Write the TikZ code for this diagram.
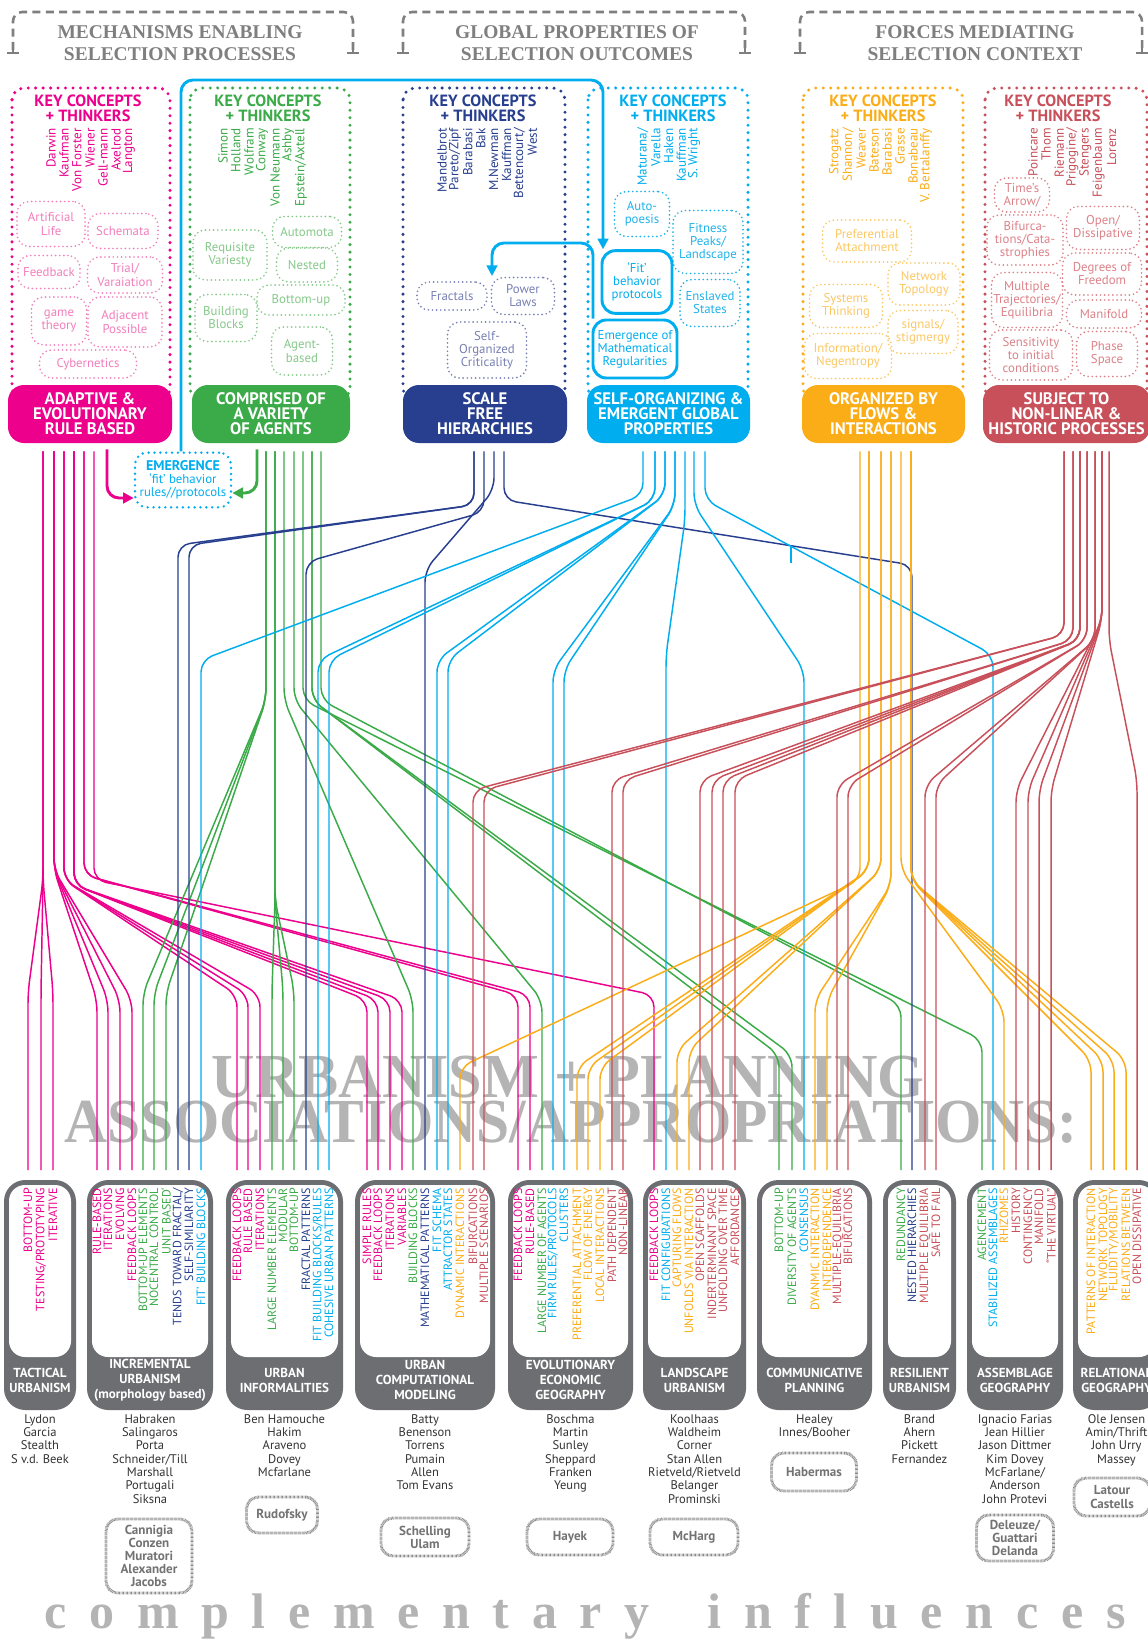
\documentclass[tikz,border=0pt]{standalone}
\usepackage{fontspec}
\setmainfont{PT Sans}
\newfontfamily\ser{Liberation Serif}
\usetikzlibrary{arrows.meta,calc}
\definecolor{cP}{HTML}{EC008C}
\definecolor{cG}{HTML}{3BAA48}
\definecolor{cN}{HTML}{273F8E}
\definecolor{cC}{HTML}{00AEEF}
\definecolor{cO}{HTML}{FBAD18}
\definecolor{cR}{HTML}{C8505A}
\definecolor{cGray}{HTML}{6D6E71}
\definecolor{cHead}{HTML}{7F7F7F}
\definecolor{cBig}{HTML}{B4B4B4}
\definecolor{lP}{HTML}{F27FBC}
\definecolor{lG}{HTML}{86C98A}
\definecolor{lN}{HTML}{7880B5}
\definecolor{lC}{HTML}{1FB3EC}
\definecolor{lO}{HTML}{FCC865}
\definecolor{lR}{HTML}{DC8289}
\newcommand\lspc{\kern17pt}
\newcommand\thk[5]{\foreach \n [count=\i from 0] in {#5}{\node[thinker,text=#1] (#2\i) at ({#3+\i*#4},128) {\n};}}
\newcommand\bl[1]{\foreach \x/\c/\t in {#1}{\node[blab,text=\c] (bl\x) at (\x,1188) {\t};}}
\newcommand\lnk[6]{\foreach \t in {#6}{\draw[conn,#1] (#2,0 |- #3.south) ++(0,8) -- (#2,#4) -- (\t,#5) -- (\t,0 |- lineend);}}
\newcommand\ubox[5]{%
 \fill[cGray,rounded corners=16pt] (#2,1180) rectangle (#3,1410);
 \fill[white,rounded corners=12pt] ({#2+5},1185) rectangle ({#3-5},1357);
 \node[uhead] (#1h) at ({(#2+#3)/2},1380) {#4};
 \node[unames,anchor=north] (#1n) at ({(#2+#3)/2},1414) {#5};}
\newcommand\comp[6]{\node[compbox,minimum width=#4*0.75pt,minimum height=#5*0.75pt] (#1) at (#2,#3) {#6};}
\newcommand\bb[7]{\node[bub=#1,minimum width=#5*0.75pt,minimum height=#6*0.75pt] (#2) at (#3,#4) {#7};}
\newcommand\hbrak[2]{%
 \draw[hdash,rounded corners=7pt] (#1,50) -- (#1,12) -- (#2,12) -- (#2,50);
 \draw[cHead,line width=1.9pt] ({#1-6},53) -- ({#1+6},53) ({#2-6},53) -- ({#2+6},53) (#1,47) -- (#1,53) (#2,47) -- (#2,53);}
\begin{document}
\begin{tikzpicture}[x=0.75pt,y=-0.75pt,
  thinker/.style={rotate=90,anchor=east,inner sep=0pt,font=\fontsize{9.8}{10}\selectfont},
  blab/.style={rotate=90,anchor=east,inner sep=0pt,font=\fontsize{9}{9}\selectfont},
  bub/.style={draw=#1,text=#1,line width=1.4pt,dash pattern=on 0pt off 3.1pt,line cap=round,rounded corners=9pt,align=center,inner sep=0pt,font=\fontsize{9.6}{9.8}\selectfont},
  fitbox/.style={draw=cC,text=cC,line width=2.2pt,rounded corners=10pt,align=center,inner sep=0pt,font=\fontsize{9.6}{9.8}\selectfont},
  bigdot/.style={draw=#1,line width=2.5pt,dash pattern=on 0pt off 5.6pt,line cap=round,rounded corners=9pt},
  catbox/.style={fill=#1,text=white,rounded corners=12pt,align=center,inner sep=0pt,minimum height=43.5pt,font=\bfseries\fontsize{12.5}{11.3}\selectfont},
  kc/.style={text=#1,align=center,inner sep=0pt,font=\bfseries\fontsize{12.2}{11.3}\selectfont},
  hdr/.style={text=cHead,align=center,inner sep=0pt,font=\ser\bfseries\fontsize{14.6}{16.5}\selectfont},
  hdash/.style={draw=cHead,line width=1.9pt,dash pattern=on 6pt off 4pt},
  conn/.style={line width=1.1pt,rounded corners=9pt},
  arr/.style={line width=2.2pt,rounded corners=9pt,-{Triangle[length=8pt,width=8pt]}},
  uhead/.style={text=white,align=center,inner sep=0pt,font=\bfseries\fontsize{9.8}{11.2}\selectfont},
  unames/.style={text=black!80,align=center,inner sep=0pt,font=\fontsize{9.4}{10}\selectfont},
  compbox/.style={draw=black!45,line width=2.2pt,dash pattern=on 0.5pt off 0.5pt,rounded corners=9pt,text=black!55,align=center,inner sep=0pt,font=\bfseries\fontsize{9.8}{9.8}\selectfont},
  bigtitle/.style={text=cBig,font=\ser\bfseries\fontsize{47}{47}\selectfont,anchor=base,inner sep=0pt},
]
\path[use as bounding box,fill=white] (0,0) rectangle (1148,1651);
\coordinate (lineend) at (0,1170);

% big titles
\node[bigtitle,xscale=0.96] (t1) at (568,1097) {URBANISM + PLANNING};
\node[bigtitle,xscale=0.95] (t2) at (571,1142) {ASSOCIATIONS/APPROPRIATIONS:};

% headers
\hbrak{13}{353}
\hbrak{403}{745}
\hbrak{800}{1142}
\node[hdr] (h1) at (180,43) {MECHANISMS ENABLING\\SELECTION PROCESSES};
\node[hdr] (h2) at (577,43) {GLOBAL PROPERTIES OF\\SELECTION OUTCOMES};
\node[hdr] (h3) at (975,43) {FORCES MEDIATING\\SELECTION CONTEXT};

% dotted boxes
\draw[bigdot=cP] (12,88) rectangle (170,400);
\draw[bigdot=cG] (190,88) rectangle (350,400);
\draw[bigdot=cN] (403,88) rectangle (565,400);
\draw[bigdot=cC] (588,88) rectangle (748,400);
\draw[bigdot=cO] (803,88) rectangle (963,400);
\draw[bigdot=cR] (985,88) rectangle (1147,400);

% key concepts
\node[kc=cP] (kcP) at (88,108) {KEY CONCEPTS\\+ THINKERS};
\node[kc=cG] (kcG) at (268,108) {KEY CONCEPTS\\+ THINKERS};
\node[kc=cN] (kcN) at (483,108) {KEY CONCEPTS\\+ THINKERS};
\node[kc=cC] (kcC) at (673,108) {KEY CONCEPTS\\+ THINKERS};
\node[kc=cO] (kcO) at (883,108) {KEY CONCEPTS\\+ THINKERS};
\node[kc=cR] (kcR) at (1058,108) {KEY CONCEPTS\\+ THINKERS};

% thinkers
\thk{cP}{tp}{51}{13}{Darwin,Kaufman,Von Forster,Wiener,Gell-mann,Axelrod,Langton}
\thk{cG}{tg}{223}{13}{Simon,Holland,Wolfram,Conway,Von Neumann,Ashby,Epstein/Axtell}
\thk{cN}{tn}{442}{12.9}{Mandelbrot,Pareto/Zipf,Barabasi,Bak,M.Newman,Kauffman,Bettencourt/,West}
\thk{cC}{tc}{643}{12.8}{Maturana/,Varella,Haken,Kauffman,S. Wright}
\thk{cO}{to}{835}{13}{Strogatz,Shannon/,Weaver,Bateson,Barabasi,Grasse,Bonabeau,V. Bertalanffy}
\thk{cR}{tr}{1033}{13.1}{Poincare,Thom,Riemann,Prigogine/,Stengers,Feigenbaum,Lorenz}

% bubbles pink
\bb{lP}{bP1}{51}{224}{68}{45}{Artificial\\Life}
\bb{lP}{bP2}{123}{231}{70}{35}{Schemata}
\bb{lP}{bP3}{49}{272}{62}{33}{Feedback}
\bb{lP}{bP4}{125}{275}{75}{36}{Trial/\\Varaiation}
\bb{lP}{bP5}{59}{321}{55}{48}{game\\theory}
\bb{lP}{bP6}{125}{322}{74}{50}{Adjacent\\Possible}
\bb{lP}{bP7}{88}{364}{97}{28}{Cybernetics}
% green
\bb{lG}{bG1}{307}{232}{69}{31}{Automota}
\bb{lG}{bG2}{230}{255}{74}{50}{Requisite\\Variesty}
\bb{lG}{bG3}{307}{265}{61}{34}{Nested}
\bb{lG}{bG4}{301}{300}{88}{30}{Bottom-up}
\bb{lG}{bG5}{226}{318}{62}{47}{Building\\Blocks}
\bb{lG}{bG6}{302}{351}{61}{48}{Agent-\\based}
% navy
\bb{lN}{bN1}{452}{296}{70}{28}{Fractals}
\bb{lN}{bN2}{523}{296}{63}{37}{Power\\Laws}
\bb{lN}{bN3}{487}{350}{79}{56}{Self-\\Organized\\Criticality}
% cyan
\bb{lC}{bC1}{642}{214}{55}{45}{Auto-\\poesis}
\bb{lC}{bC2}{708}{242}{70}{63}{Fitness\\Peaks/\\Landscape}
\node[fitbox,minimum width=52.5pt,minimum height=47pt] (fitb) at (637,282) {`Fit'\\behavior\\protocols};
\bb{lC}{bC4}{710}{303}{60}{47}{Enslaved\\States}
\node[fitbox,minimum width=63pt,minimum height=43.5pt] (emath) at (635,349) {Emergence of\\Mathematical\\Regularities};
% orange
\bb{lO}{bO1}{867}{241}{89}{42}{Preferential\\Attachment}
\bb{lO}{bO2}{924}{284}{72}{42}{Network\\Topology}
\bb{lO}{bO3}{846}{306}{73}{43}{Systems\\Thinking}
\bb{lO}{bO4}{923}{332}{70}{43}{signals/\\stigmergy}
\bb{lO}{bO5}{848}{356}{87}{45}{Information/\\Negentropy}
% red
\bb{lR}{bR1}{1022}{195}{55}{34}{Time's\\Arrow/}
\bb{lR}{bR2}{1025}{240}{76}{50}{Bifurca-\\tions/Cata-\\strophies}
\bb{lR}{bR3}{1103}{228}{73}{43}{Open/\\Dissipative}
\bb{lR}{bR4}{1102}{274}{79}{42}{Degrees of\\Freedom}
\bb{lR}{bR5}{1027}{300}{71}{55}{Multiple\\Trajectories/\\Equilibria}
\bb{lR}{bR6}{1104}{314}{75}{28}{Manifold}
\bb{lR}{bR7}{1031}{355}{83}{50}{Sensitivity\\to initial\\conditions}
\bb{lR}{bR8}{1107}{354}{61}{45}{Phase\\Space}

% category boxes
\node[catbox=cP,minimum width=123pt] (catP) at (90,414) {ADAPTIVE \&\\EVOLUTIONARY\\RULE BASED};
\node[catbox=cG,minimum width=118.5pt] (catG) at (271,414) {COMPRISED OF\\A VARIETY\\OF AGENTS};
\node[catbox=cN,minimum width=123pt] (catN) at (485,414) {SCALE\\FREE\\HIERARCHIES};
\node[catbox=cC,minimum width=122.25pt] (catC) at (668.5,414) {SELF-ORGANIZING \&\\EMERGENT GLOBAL\\PROPERTIES};
\node[catbox=cO,minimum width=122.25pt] (catO) at (883.5,414) {ORGANIZED BY\\FLOWS \&\\INTERACTIONS};
\node[catbox=cR,minimum width=125.25pt] (catR) at (1066.5,414) {SUBJECT TO\\NON-LINEAR \&\\HISTORIC PROCESSES};

% emergence
\node[bub=cC,line width=2pt,dash pattern=on 0pt off 4.4pt,minimum width=72pt,minimum height=41pt] (emerg) at (183,480) {{\bfseries\fontsize{10.5}{11}\selectfont EMERGENCE}\\`fit' behavior\\rules//protocols};
\coordinate (atip) at (492,276);
\draw[arr,cC] (181,0 |- emerg.north) -- (181,80) -- (603,80) -- (603,0 |- fitb.north);
\draw[arr,cC] (593,0 |- emath.north) -- (593,243) -- (492,243) -- (atip);
\draw[arr,cP] (107,0 |- catP.south) ++(0,6) -- (107,498) -- (emerg.west |- 0,498);
\draw[arr,cG] (257,0 |- catG.south) ++(0,6) -- (257,493) -- (emerg.east |- 0,493);

% connectors pink
\lnk{cP}{43}{catP}{880}{992}{28,41,53}
\lnk{cP}{54}{catP}{870}{1000}{97,108,120,132}
\lnk{cP}{64}{catP}{880}{995}{237,248,260}
\lnk{cP}{74}{catP}{885}{1000}{367,378,390,402}
\lnk{cP}{84}{catP}{875}{995}{518,530}
\lnk{cP}{94}{catP}{880}{995}{654}
% green
\lnk{cG}{266}{catG}{700}{993}{143,154,166}
\lnk{cG}{275}{catG}{900}{990}{272,283,294}
\lnk{cG}{284}{catG}{700}{1000}{413}
\lnk{cG}{294}{catG}{700}{1000}{542}
\lnk{cG}{303}{catG}{700}{1040}{982}
\lnk{cG}{312}{catG}{700}{1055}{779,792}
\lnk{cG}{321}{catG}{700}{1005}{901}
% navy
\lnk{cN}{474}{catN}{505}{545}{178,189}
\lnk{cN}{484}{catN}{512}{562}{306}
\lnk{cN}{494}{catN}{490}{570}{425}
\lnk{cN}{504}{catN}{500}{565}{912}
% cyan
\lnk{cC}{643}{catC}{495}{660}{201}
\lnk{cC}{655}{catC}{500}{660}{318,329}
\lnk{cC}{665}{catC}{495}{660}{437,448}
\lnk{cC}{675}{catC}{505}{670}{553,564}
\lnk{cC}{685}{catC}{520}{655}{666}
\lnk{cC}{694}{catC}{505}{670}{804}
\lnk{cC}{705}{catC}{500}{655}{993}
\coordinate (tickA) at (791,547);
\coordinate (tickB) at (791,563);
\draw[cC,line width=1.1pt] (tickA) -- (tickB);
% orange
\lnk{cO}{860}{catO}{880}{1067}{460}
\lnk{cO}{869}{catO}{870}{1067}{577,588,600}
\lnk{cO}{881}{catO}{870}{1050}{677,689}
\lnk{cO}{891}{catO}{885}{1000}{815,827}
\lnk{cO}{901}{catO}{870}{1010}{1004}
\lnk{cO}{911}{catO}{880}{1060}{1091,1103,1114,1126}
% red
\lnk{cR}{1064}{catR}{635}{790}{473,484}
\lnk{cR}{1073}{catR}{640}{780}{612,623}
\lnk{cR}{1080}{catR}{640}{780}{700,712,723,735}
\lnk{cR}{1087}{catR}{640}{785}{837,848}
\lnk{cR}{1095}{catR}{640}{785}{925,936}
\lnk{cR}{1102}{catR}{620}{790}{1016,1028,1039,1051}
\lnk{cR}{1109}{catR}{640}{780}{1137}

% bottom boxes
\ubox{ub1}{4}{76}{TACTICAL\\URBANISM}{Lydon\\Garcia\\Stealth\\S v.d. Beek}
\ubox{ub2}{87}{213}{INCREMENTAL\\URBANISM\\(morphology based)}{Habraken\\Salingaros\\Porta\\Schneider/Till\\Marshall\\Portugali\\Siksna}
\ubox{ub3}{226}{343}{URBAN\\INFORMALITIES}{Ben Hamouche\\Hakim\\Araveno\\Dovey\\Mcfarlane}
\ubox{ub4}{355}{495}{URBAN\\COMPUTATIONAL\\MODELING}{Batty\\Benenson\\Torrens\\Pumain\\Allen\\Tom Evans}
\ubox{ub5}{508}{633}{EVOLUTIONARY\\ECONOMIC\\GEOGRAPHY}{Boschma\\Martin\\Sunley\\Sheppard\\Franken\\Yeung}
\ubox{ub6}{643}{746}{LANDSCAPE\\URBANISM}{Koolhaas\\Waldheim\\Corner\\Stan Allen\\Rietveld/Rietveld\\Belanger\\Prominski}
\ubox{ub7}{757}{872}{COMMUNICATIVE\\PLANNING}{Healey\\Innes/Booher}
\ubox{ub8}{883}{956}{RESILIENT\\URBANISM}{Brand\\Ahern\\Pickett\\Fernandez}
\ubox{ub9}{967}{1063}{ASSEMBLAGE\\GEOGRAPHY}{Ignacio Farias\\Jean Hillier\\Jason Dittmer\\Kim Dovey\\McFarlane/\\Anderson\\John Protevi}
\ubox{ub10}{1073}{1160}{RELATIONAL\\GEOGRAPHY}{Ole Jensen\\Amin/Thrift\\John Urry\\Massey}

% bottom labels
\bl{28/cP/BOTTOM-UP, 41/cP/{TESTING/PROTOTYPING}, 53/cP/ITERATIVE,
97/cP/RULE-BASED, 108/cP/ITERATIONS, 120/cP/EVOLVING, 132/cP/FEEDBACK LOOPS, 143/cG/BOTTOM-UP ELEMENTS, 154/cG/NOCENTRAL CONTROL, 166/cG/UNIT BASED`, 178/cN/{TENDS TOWARD FRACTAL/}, 189/cN/SELF-SIMILIARITY, 201/cC/FIT' BUILDING BLOCKS,
237/cP/FEEDBACK LOOPS, 248/cP/RULE BASED, 260/cP/ITERATIONS, 272/cG/LARGE NUMBER ELEMENTS, 283/cG/MODULAR, 294/cG/BOTTOM-UP, 306/cN/FRACTAL PATTERNS, 318/cC/{FIT BUILDING BLOCKS/RULES}, 329/cC/COHESIVE URBAN PATTERNS,
367/cP/SIMPLE RULES, 378/cP/FEEDBACK LOOPS, 390/cP/ITERATIONS, 402/cP/VARIABLES, 413/cG/BUILDING BLOCKS, 425/cN/MATHEMATICAL PATTERNS, 437/cC/FIT SCHEMA, 448/cC/ATTRACTOR STATES, 460/cO/DYNAMIC INTERACTIONS, 473/cR/BIFURCATIONS, 484/cR/MULTIPLE SCENARIOS,
518/cP/FEEDBACK LOOPS, 530/cP/RULE-BASED, 542/cG/LARGE NUMBER OF AGENTS, 553/cC/{FIRM RULES/PROTOCOLS}, 564/cC/CLUSTERS, 577/cO/PREFERENTIAL ATTACHMENT, 588/cO/FLOW OF ENERGY, 600/cO/LOCAL INTERACTIONS, 612/cR/PATH DEPENDENT, 623/cR/NON-LINEAR,
654/cP/FEEDBACK LOOPS, 666/cC/FIT CONFIGURATIONS, 677/cO/CAPTURING FLOWS, 689/cO/UNFOLDS VIA INTERACTION, 700/cR/OPEN SCAFFOLDS, 712/cR/INDERTERMINANT SPACE, 723/cR/UNFOLDING OVER TIME, 735/cR/AFFORDANCES,
779/cG/BOTTOM-UP, 792/cG/DIVERSITY OF AGENTS, 804/cC/CONSENSUS, 815/cO/DYANMIC INTERACTION, 827/cO/INTERDEPENDENCE, 838/cR/MULTIPLE-EQUILIBRIA, 848/cR/BIFURCATIONS,
901/cG/REDUNDANCY, 912/cN/NESTED HIERARCHIES, 925/cR/MULTIPLE EQUILIBRIA, 936/cR/SAFE TO FAIL,
982/cG/AGENCEMENT, 993/cC/STABILIZED ASSEMBLAGES, 1004/cO/RHIZOMES, 1016/cR/HISTORY, 1028/cR/CONTINGENCY, 1039/cR/MANIFOLD, 1051/cR/``THE VIRTUAL'',
1091/cO/PATTERNS OF INTERACTION, 1103/cO/NETWORK TOPOLOGY, 1114/cO/{FLUIDITY/MOBILITY}, 1126/cO/RELATIONS BETWEEN, 1137/cR/OPEN DISSIPATIVE}

% complementary boxes
\comp{cb2}{149}{1556}{86}{74}{Cannigia\\Conzen\\Muratori\\Alexander\\Jacobs}
\comp{cb3}{282}{1515}{71}{36}{Rudofsky}
\comp{cb4}{425}{1537}{88}{38}{Schelling\\Ulam}
\comp{cb5}{570}{1537}{86}{36}{Hayek}
\comp{cb6}{694}{1537}{88}{36}{McHarg}
\comp{cb7}{814}{1472}{85}{38}{Habermas}
\comp{cb9}{1015}{1538}{77}{46}{Deleuze/\\Guattari\\Delanda}
\comp{cb10}{1112}{1497}{76}{38}{Latour\\Castells}

\node[text=cBig,font=\ser\bfseries\fontsize{37.5}{40}\selectfont,anchor=base,inner sep=0pt] (compl) at (585,1628)
 {c\lspc o\lspc m\lspc p\lspc l\lspc e\lspc m\lspc e\lspc n\lspc t\lspc a\lspc r\lspc y\lspc\ \lspc i\lspc n\lspc f\lspc l\lspc u\lspc e\lspc n\lspc c\lspc e\lspc s};
\end{tikzpicture}
\end{document}
